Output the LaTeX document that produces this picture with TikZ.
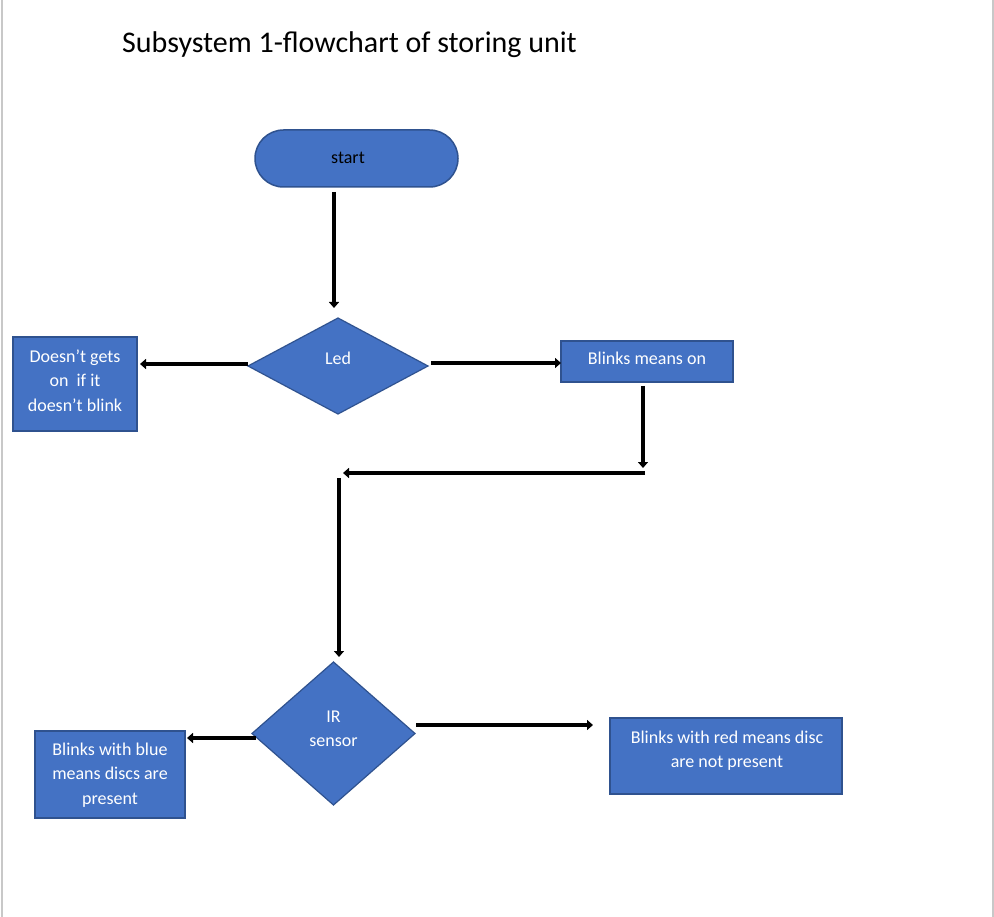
\documentclass[tikz,border=0pt]{standalone}
\usepackage{fontspec}
\setmainfont{Carlito}
\usetikzlibrary{shapes.geometric,shapes.misc,arrows.meta}
\definecolor{fillblue}{HTML}{4472C4}
\definecolor{edgeblue}{HTML}{2F528F}
\definecolor{pageedge}{HTML}{C8C8C8}
\begin{document}
\begin{tikzpicture}[x=1pt,y=-1pt,
  box/.style={rectangle, draw=edgeblue, fill=fillblue, line width=2pt, inner sep=0pt, outer sep=0pt},
  dia/.style={diamond, draw=edgeblue, fill=fillblue, line width=1.2pt, inner sep=0pt, outer sep=0pt},
  term/.style={rounded rectangle, draw=edgeblue, fill=fillblue, line width=1.5pt, inner sep=0pt, outer sep=0pt},
  txt/.style={text=white, font=\fontsize{18}{24.5}\selectfont, align=center, inner sep=0pt, anchor=base},
  conn/.style={line width=4pt, -{Triangle[length=6pt,width=10pt]}}
]
\useasboundingbox (0,0) rectangle (994,917);
\fill[white] (0,0) rectangle (994,917);
\draw[pageedge, line width=1.5pt] (2,0) -- (2,917);
\draw[pageedge, line width=1.5pt] (993,0) -- (993,917);

\node[anchor=base west, font=\fontsize{30}{36}\selectfont, inner sep=0pt] (title) at (122,53) {Subsystem 1-flowchart of storing unit};

% shapes
\node[term, minimum width=203pt, minimum height=57pt] (start) at (356.5,158.5) {};
\node[txt, text=black] (starttxt) at (348,163.3) {start};

\node[dia, minimum width=180pt, minimum height=96pt] (led) at (338,366) {};
\node[txt] (ledtxt) at (338,365) {Led};

\node[box, minimum width=124pt, minimum height=94pt] (nob) at (75,384) {};
\node[txt] (nobtxt) at (75,411) {Doesn’t gets\\on\ \ if it\\doesn’t blink};

\node[box, minimum width=172pt, minimum height=41pt] (on) at (647,361.5) {};
\node[txt] (ontxt) at (647,365) {Blinks means on};

\node[dia, minimum width=163pt, minimum height=143pt] (ir) at (333.5,733.5) {};
\node[txt] (irtxt) at (333.5,746.7) {IR\\sensor};

\node[box, minimum width=150pt, minimum height=87pt] (blue) at (110,774.5) {};
\node[txt] (bluetxt) at (110,804.3) {Blinks with blue\\means discs are\\present};

\node[box, minimum width=232pt, minimum height=76pt] (red) at (726,756) {};
\node[txt] (redtxt) at (727,767.7) {Blinks with red means disc\\are not present};

\coordinate (jr) at (643,473);
\coordinate (jl) at (339,473);

% connectors
\draw[conn, shorten >=10pt] ([xshift=-22.5pt,yshift=-5pt]start.south) coordinate (s1) -- (s1 |- led.north);
\draw[conn, shorten >=3pt] ([yshift=2pt]led.west) coordinate (t1) -- (t1 -| nob.east);
\draw[conn] ([xshift=3pt,yshift=3pt]led.east) coordinate (t2) -- (t2 -| on.west);
\draw[conn, shorten >=5pt] ([xshift=-4pt,yshift=-4pt]on.south) coordinate (u) -- (u |- jr);
\draw[conn, shorten >=4pt] ([xshift=2pt]jr) -- (jl);
\draw[conn, shorten <=5pt, shorten >=5pt] (jl) -- (jl |- ir.north);
\draw[conn, shorten >=2pt] ([xshift=4pt,yshift=-4.5pt]ir.west) coordinate (v) -- (v -| blue.east);
\draw[conn, shorten >=17pt] ([xshift=1pt,yshift=8.5pt]ir.east) coordinate (w) -- (w -| red.west);
\end{tikzpicture}
\end{document}
